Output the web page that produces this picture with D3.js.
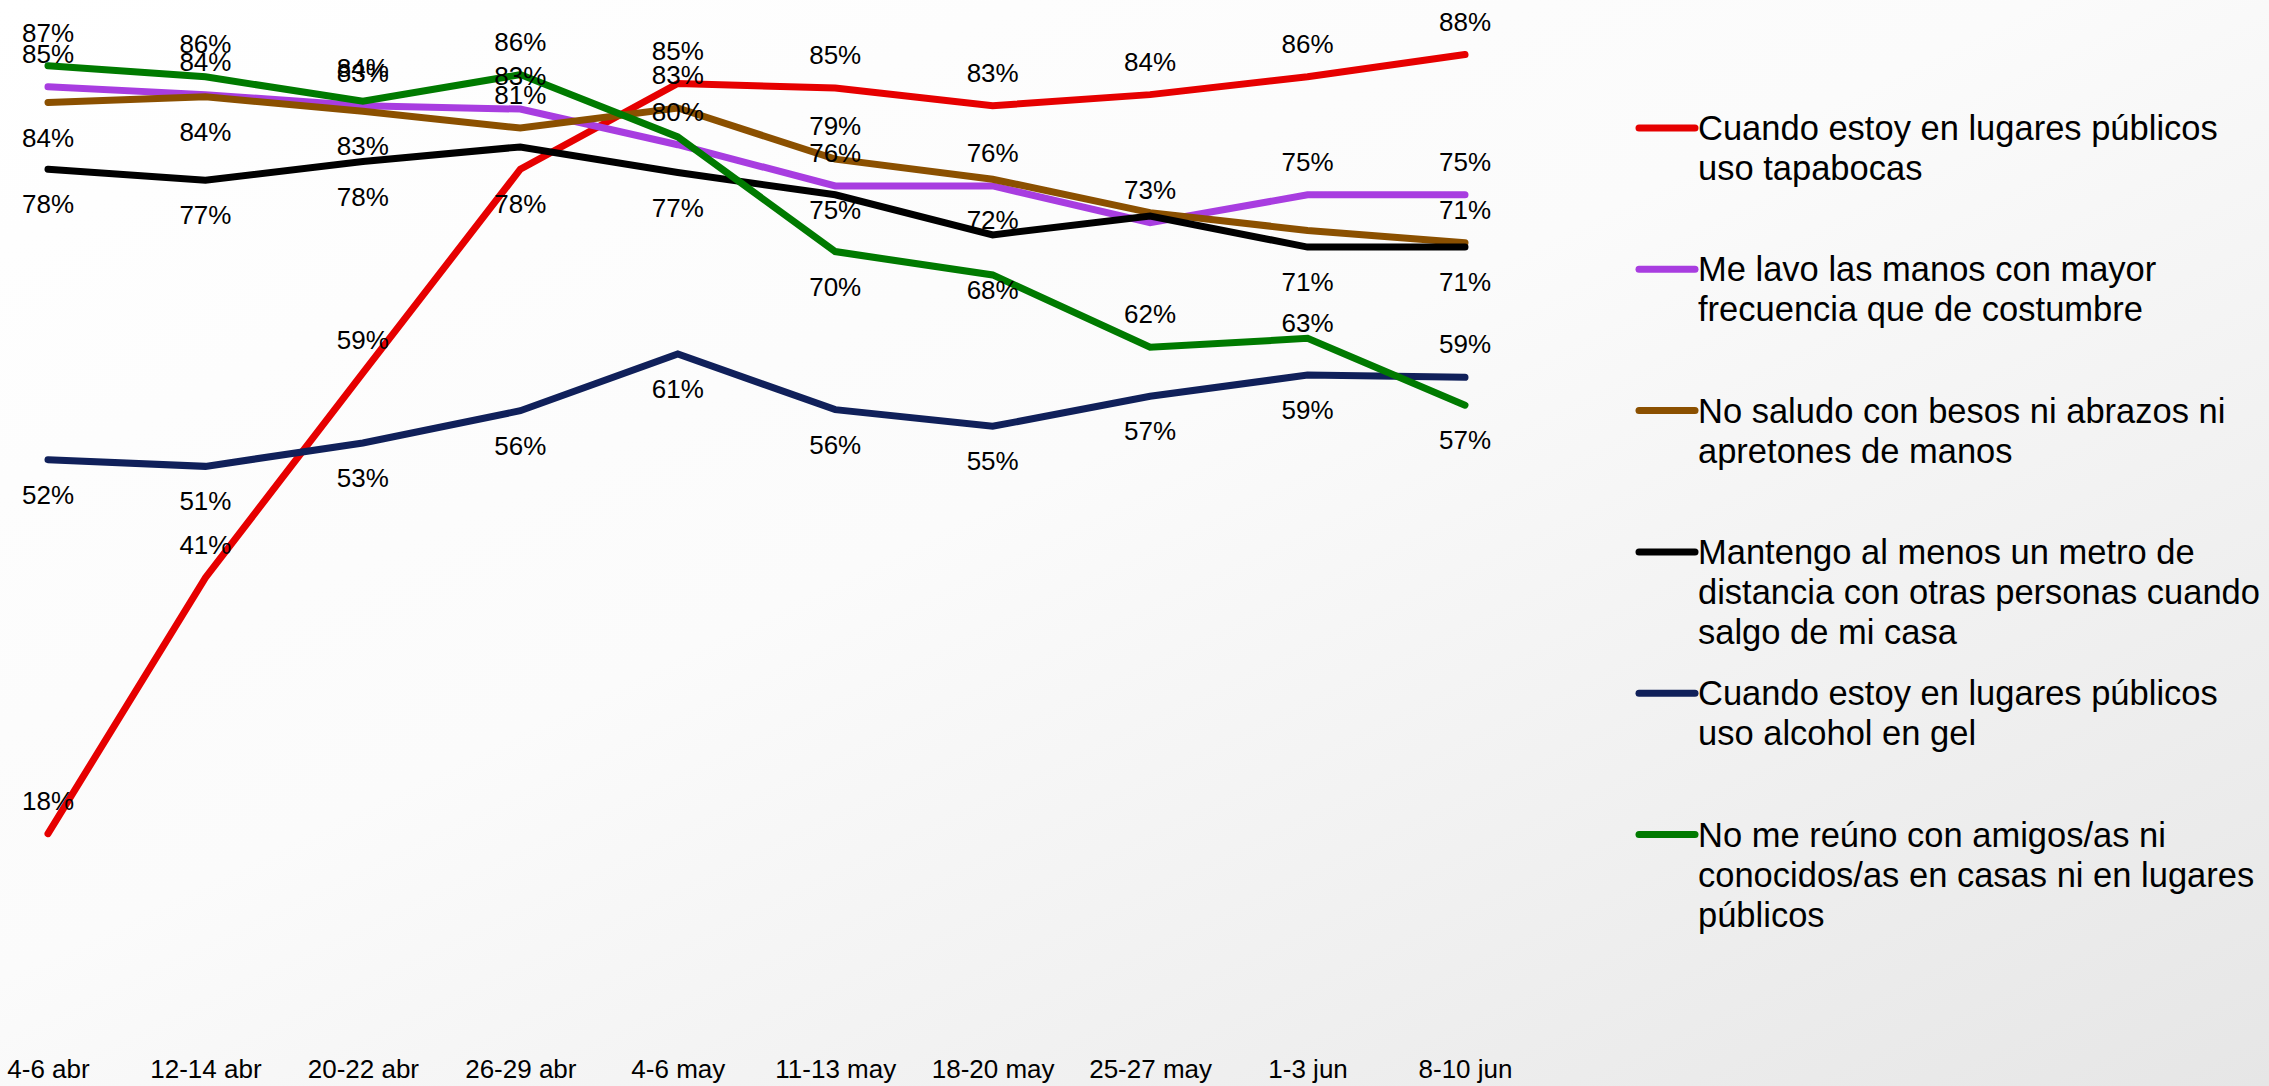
<!DOCTYPE html>
<html>
<head>
<meta charset="utf-8">
<script src="https://cdn.jsdelivr.net/npm/d3@7"></script>
<style>
	body { margin: 0; padding: 0; overflow: hidden; }
	text { font-family: "Liberation Sans", Arial, sans-serif; fill: #000; }
</style>
</head>
<body>
<div id="chart-area"></div>
<script>

// Survey waves (x axis)
var categories = ["4-6 abr", "12-14 abr", "20-22 abr", "26-29 abr", "4-6 may",
                  "11-13 may", "18-20 may", "25-27 may", "1-3 jun", "8-10 jun"];

// Series values (%)
var tapabocas  = [18, 41, 59.4, 77.7, 85.4, 85, 83.4, 84.4, 86, 88];
var lavoManos  = [85.1, 84.4, 83.4, 83.1, 79.9, 76.2, 76.2, 72.9, 75.4, 75.4];
var noSaludo   = [83.7, 84.2, 82.9, 81.4, 83.2, 78.6, 76.8, 73.8, 72.2, 71.1];
var distancia  = [77.7, 76.7, 78.4, 79.7, 77.4, 75.4, 71.8, 73.5, 70.7, 70.7];
var alcoholGel = [51.6, 51, 53.1, 56, 61.1, 56.1, 54.6, 57.3, 59.2, 59];
var noReunion  = [87, 86, 83.8, 86.2, 80.6, 70.3, 68.2, 61.7, 62.5, 56.5];

// Legend texts (already wrapped as in the original)
var legendLabels = [
	["Cuando estoy en lugares públicos", "uso tapabocas"],
	["Me lavo las manos con mayor", "frecuencia que de costumbre"],
	["No saludo con besos ni abrazos ni", "apretones de manos"],
	["Mantengo al menos un metro de", "distancia con otras personas cuando", "salgo de mi casa"],
	["Cuando estoy en lugares públicos", "uso alcohol en gel"],
	["No me reúno con amigos/as ni", "conocidos/as en casas ni en lugares", "públicos"]
];

var seriesColors = ["#e60000", "#a83de0", "#8b5000", "#000000", "#10205a", "#007a00"];

// where each data label sits: t = above, b = below, nt / nb = close to the line, "" = hidden
var labelSpots = [
	["t", "t", "t", "b", "t", "t", "t", "t", "t", "t"],
	["t", "t", "t", "t", "t", "t", "t", "t", "t", "t"],
	["b", "b", "b", "t", "t", "t", "", "", "", "t"],
	["b", "b", "b", "", "b", "nb", "nt", "", "b", "b"],
	["b", "b", "b", "b", "b", "b", "b", "b", "b", "t"],
	["t", "t", "t", "t", "", "b", "nb", "t", "nt", "b"]
];

class LineChart{

	constructor(_parentElement){
		this.parentElement = _parentElement;
		this.initializeChart();
	}

	initializeChart(){
		var vis = this;

		vis.width = 2269;
		vis.height = 1086;

		vis.svg = d3.select(vis.parentElement).append("svg")
			.attr("width", vis.width)
			.attr("height", vis.height);

		// soft grey background like the slide
		var grad = vis.svg.append("defs").append("linearGradient")
			.attr("id", "bg")
			.attr("x1", 0).attr("y1", 0)
			.attr("x2", 1).attr("y2", 1);
		grad.append("stop").attr("offset", "0%").attr("stop-color", "#ffffff");
		grad.append("stop").attr("offset", "45%").attr("stop-color", "#fbfbfb");
		grad.append("stop").attr("offset", "100%").attr("stop-color", "#e6e6e6");

		vis.svg.append("rect")
			.attr("width", vis.width)
			.attr("height", vis.height)
			.attr("fill", "url(#bg)");

		vis.chart = vis.svg.append("g").attr("class", "line-chart");

		vis.xscale = d3.scalePoint()
			.domain(categories)
			.range([48, 1465]);

		vis.yscale = d3.scaleLinear()
			.domain([0, 100])
			.range([1034, -79]);

		vis.xaxis = d3.axisBottom()
			.scale(vis.xscale)
			.tickSize(0)
			.tickPadding(26);

		vis.wrangleData();
	}

	wrangleData(){
		var vis = this;

		var allValues = [tapabocas, lavoManos, noSaludo, distancia, alcoholGel, noReunion];
		vis.series = allValues.map(function(vals, i){
			return {
				id: i,
				color: seriesColors[i],
				values: vals.map(function(v, j){
					return {cat: categories[j], value: v, spot: labelSpots[i][j]};
				})
			};
		});

		vis.updateChart();
	}

	updateChart(){
		var vis = this;

		var line = d3.line()
			.x(d => vis.xscale(d.cat))
			.y(d => vis.yscale(d.value));

		// x axis (labels only)
		var ax = vis.chart.append("g")
			.attr("class", "x-axis")
			.attr("transform", "translate(0," + vis.yscale(0) + ")")
			.call(vis.xaxis);
		ax.select(".domain").remove();
		ax.selectAll("text")
			.attr("font-size", 26)
			.attr("font-family", "'Liberation Sans', Arial, sans-serif")
			.attr("fill", "#000");

		// lines
		vis.chart.selectAll("path.series")
			.data(vis.series)
			.enter().append("path")
			.attr("class", "series")
			.attr("fill", "none")
			.attr("stroke", d => d.color)
			.attr("stroke-width", 7)
			.attr("stroke-linecap", "round")
			.attr("stroke-linejoin", "miter")
			.attr("d", d => line(d.values));

		// data labels
		var offsets = {t: -33, b: 35, nt: -15, nb: 15};
		var labels = [];
		vis.series.forEach(function(s){
			s.values.forEach(function(d){
				if(d.spot) labels.push(d);
			});
		});

		vis.chart.selectAll("text.value-label")
			.data(labels)
			.enter().append("text")
			.attr("class", "value-label")
			.attr("x", d => vis.xscale(d.cat))
			.attr("y", d => vis.yscale(d.value) + offsets[d.spot])
			.attr("dy", "0.35em")
			.attr("text-anchor", "middle")
			.attr("font-size", 26)
			.text(d => Math.round(d.value) + "%");

		// legend
		var legend = vis.svg.append("g").attr("class", "legend");
		var entries = legend.selectAll("g")
			.data(vis.series)
			.enter().append("g")
			.attr("transform", (d, i) => "translate(1639," + (128 + i * 141.3) + ")");

		entries.append("line")
			.attr("x1", 0).attr("x2", 56)
			.attr("y1", 0).attr("y2", 0)
			.attr("stroke", d => d.color)
			.attr("stroke-width", 7)
			.attr("stroke-linecap", "round");

		entries.append("text")
			.attr("font-size", 34.5)
			.selectAll("tspan")
			.data(d => legendLabels[d.id])
			.enter().append("tspan")
			.attr("x", 59)
			.attr("y", (t, k) => k * 40)
			.attr("dy", "0.35em")
			.text(t => t);
	}
}

var chart = new LineChart("#chart-area");

</script>
</body>
</html>
